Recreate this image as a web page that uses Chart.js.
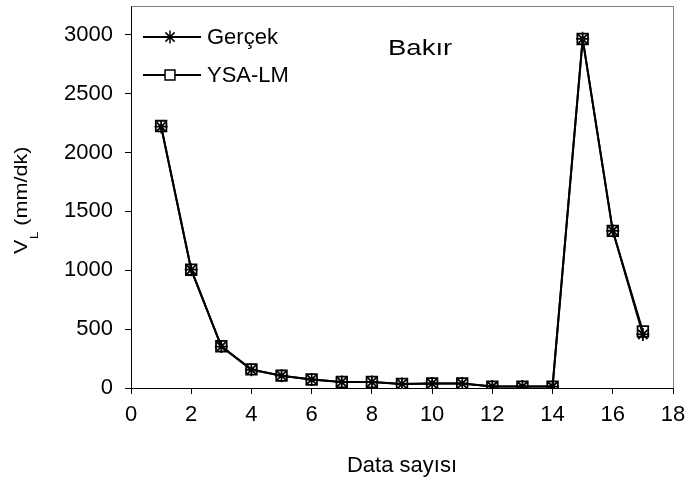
<!DOCTYPE html>
<html>
<head>
<meta charset="utf-8">
<script src="https://cdn.jsdelivr.net/npm/chart.js@4/dist/chart.umd.min.js"></script>
<style>
  html, body { margin: 0; padding: 0; background: #ffffff; }
  #wrap { width: 688px; height: 485px; }
</style>
</head>
<body>
<div id="wrap"><canvas id="c" width="688" height="485"></canvas></div>
<script>
// ---- data ----
const dataIndex = [1, 2, 3, 4, 5, 6, 7, 8, 9, 10, 11, 12, 13, 14, 15, 16, 17];
const gercek = [2220, 1005, 352, 155, 105, 72, 51, 51, 35, 38, 38, 12, 12, 12, 2965, 1335, 455];
const ysaLM  = [2225, 1005, 355, 158, 105, 72, 51, 51, 35, 38, 38, 12, 12, 12, 2965, 1335, 480];
const seriesNames = ['Gerçek', 'YSA-LM'];
const yTickValues = [0, 500, 1000, 1500, 2000, 2500, 3000];
const xTitle = 'Data sayısı';
const yTitleMain = 'V';
const yTitleSub = 'L';
const yTitleRest = ' (mm/dk)';
const annotation = 'Bakır';

const FONT = '"Liberation Sans", Arial, sans-serif';

const toPts = (ys) => dataIndex.map((x, i) => ({ x: x, y: ys[i] }));

const extrasPlugin = {
  id: 'extras',
  beforeDatasetsDraw(chart) {
    const ctx = chart.ctx;
    const a = chart.chartArea;
    const top = 6.5;
    ctx.save();
    ctx.strokeStyle = '#808080';
    ctx.lineWidth = 1;
    ctx.beginPath();
    ctx.moveTo(a.left, top);
    ctx.lineTo(Math.round(a.right) + 0.5, top);
    ctx.lineTo(Math.round(a.right) + 0.5, a.bottom);
    ctx.stroke();
    // continue the left axis line up to the frame top
    ctx.strokeStyle = '#000';
    ctx.beginPath();
    ctx.moveTo(a.left + 0.5, top);
    ctx.lineTo(a.left + 0.5, a.top + 1);
    ctx.stroke();
    ctx.restore();
  },
  afterDraw(chart) {
    const ctx = chart.ctx;
    ctx.save();
    ctx.fillStyle = '#000';
    ctx.translate(27, 254);
    ctx.rotate(-Math.PI / 2);
    ctx.scale(1.2, 1);
    ctx.textBaseline = 'alphabetic';
    ctx.textAlign = 'left';
    ctx.font = '18px ' + FONT;
    ctx.fillText(yTitleMain, 0, 0);
    let w = ctx.measureText(yTitleMain).width;
    ctx.font = '11px ' + FONT;
    ctx.fillText(yTitleSub, w + 0.5, 11);
    w += 0.5 + ctx.measureText(yTitleSub).width;
    ctx.font = '18px ' + FONT;
    ctx.fillText(yTitleRest, w, 0);
    ctx.restore();

    ctx.save();
    ctx.fillStyle = '#000';
    ctx.font = '22px ' + FONT;
    ctx.textBaseline = 'alphabetic';
    ctx.translate(388, 55);
    ctx.scale(1.25, 1);
    ctx.fillText(annotation, 0, 0);
    ctx.restore();

    const rows = [
      { y: 37, style: 'star', radius: 6.5, label: seriesNames[0] },
      { y: 75, style: 'rect', radius: 7, label: seriesNames[1] }
    ];
    ctx.save();
    rows.forEach(r => {
      ctx.strokeStyle = '#000';
      ctx.lineWidth = 2;
      ctx.beginPath();
      ctx.moveTo(143, r.y);
      ctx.lineTo(201, r.y);
      ctx.stroke();
      ctx.lineWidth = 1.5;
      ctx.fillStyle = '#ffffff';
      Chart.helpers.drawPoint(ctx, { pointStyle: r.style, radius: r.radius, borderWidth: 1.5, rotation: 0 }, 170, r.y);
      ctx.fillStyle = '#000';
      ctx.font = '22px ' + FONT;
      ctx.textBaseline = 'alphabetic';
      ctx.fillText(r.label, 207, r.y + 7);
    });
    ctx.restore();
  }
};

new Chart(document.getElementById('c'), {
  type: 'line',
  data: {
    datasets: [
      {
        label: seriesNames[0],
        data: toPts(gercek),
        borderColor: '#000',
        borderWidth: 2,
        pointStyle: 'star',
        pointRadius: 6.5,
        pointBorderWidth: 1.8,
        pointBorderColor: '#000',
        pointBackgroundColor: 'rgba(0,0,0,0)',
        tension: 0
      },
      {
        label: seriesNames[1],
        data: toPts(ysaLM),
        borderColor: '#000',
        borderWidth: 2,
        pointStyle: 'rect',
        pointRadius: 7.5,
        pointBorderWidth: 1.8,
        pointBorderColor: '#000',
        pointBackgroundColor: 'rgba(0,0,0,0)',
        tension: 0
      }
    ]
  },
  options: {
    responsive: false,
    animation: false,
    devicePixelRatio: 1,
    layout: { padding: { top: 3, right: 15, left: 0, bottom: 0 } },
    plugins: { legend: { display: false }, tooltip: { enabled: false } },
    scales: {
      x: {
        type: 'linear',
        min: 0, max: 18,
        ticks: { stepSize: 2, color: '#000', font: { family: FONT, size: 22 }, padding: 8, maxRotation: 0,
                 callback: v => String(v) },
        grid: { drawOnChartArea: false, drawTicks: true, tickLength: 6, color: '#000' },
        border: { color: '#000', width: 1 },
        title: { display: true, text: xTitle, color: '#000', font: { family: FONT, size: 22 }, padding: { top: 0, bottom: 6 } },
        afterFit(scale) { scale.height = 97; scale.paddingLeft = 0; scale.paddingRight = 0; }
      },
      y: {
        type: 'linear',
        min: 0, max: 3217,
        afterBuildTicks(scale) { scale.ticks = yTickValues.map(v => ({ value: v })); },
        ticks: { autoSkip: false, color: '#000', font: { family: FONT, size: 22 }, padding: 12,
                 callback: v => String(v) },
        grid: { drawOnChartArea: false, drawTicks: true, tickLength: 6, color: '#000' },
        border: { color: '#000', width: 1 },
        afterFit(scale) { scale.width = 131; scale.paddingTop = 0; scale.paddingBottom = 0; }
      }
    }
  },
  plugins: [extrasPlugin]
});
</script>
</body>
</html>
